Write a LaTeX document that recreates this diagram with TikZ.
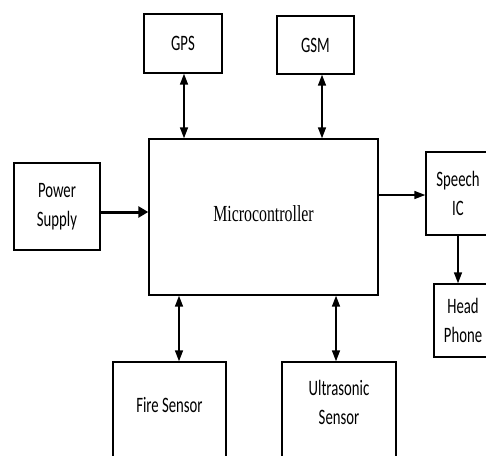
\documentclass[tikz,border=0pt]{standalone}
\usepackage{fontspec}
\usetikzlibrary{arrows.meta}
\newfontfamily\lblfont[FakeStretch=0.67]{Carlito}
\newfontfamily\mcfont[FakeStretch=0.69]{Liberation Serif}
\begin{document}
\begin{tikzpicture}[x=1pt,y=-1pt,
  box/.style={draw=black,line width=1.4pt,inner sep=0pt,align=center,
    font=\lblfont\fontsize{22}{29}\selectfont},
  lbl/.style={inner sep=0pt,align=center,font=\lblfont\fontsize{22}{29}\selectfont},
  dar/.style={line width=1.6pt,{Triangle[length=11pt,width=8pt]}-{Triangle[length=11pt,width=8pt]}},
  sar/.style={line width=1.6pt,-{Triangle[length=11pt,width=8pt]}}]
\useasboundingbox (0,0) rectangle (486,455);
\clip (0,0) rectangle (486,455);
\fill[white] (0,0) rectangle (486,455);
% boxes
\node[box,minimum width=78pt,minimum height=59pt] (gps) at (183,43.5) {GPS};
\node[box,minimum width=77pt,minimum height=58pt] (gsm) at (315.5,45) {GSM};
\node[box,minimum width=86pt,minimum height=87pt] (power) at (57,206.5) {Power\\Supply};
\node[box,minimum width=229pt,minimum height=156pt,font=\mcfont\fontsize{23}{26}\selectfont] (mc) at (263.5,217) {\raisebox{7pt}{Microcontroller}};
\node[box,minimum width=64pt,minimum height=83pt] (speech) at (458,193.5) {Speech\\IC};
\node[box,minimum width=58pt,minimum height=73pt] (head) at (463,320.5) {Head\\Phone};
\node[box,minimum width=113pt,minimum height=120pt] (fire) at (169.5,422) {};
\node[box,minimum width=114pt,minimum height=120pt] (ultra) at (339,422) {};
\node[lbl] (firetext) at (169.5,405) {Fire Sensor};
\node[lbl] (ultratext) at (339,402) {Ultrasonic\\Sensor};
% connectors
\draw[dar] ([xshift=1pt]gps.south) -- ([xshift=1pt]gps.south |- mc.north);
\draw[dar] ([xshift=6.5pt]gsm.south) -- ([xshift=6.5pt]gsm.south |- mc.north);
\draw[dar] ([xshift=9.5pt]fire.north) -- ([xshift=9.5pt]fire.north |- mc.south);
\draw[dar] ([xshift=-3pt]ultra.north) -- ([xshift=-3pt]ultra.north |- mc.south);
\draw[line width=3pt,-{Triangle[length=10pt,width=11pt]}] ([yshift=-5.5pt]power.east) -- ([yshift=-5.5pt]power.east -| mc.west);
\draw[sar] ([yshift=22pt]mc.east) -- ([yshift=22pt]mc.east -| speech.west);
\draw[sar] (speech.south) -- (speech.south |- head.north);
\end{tikzpicture}
\end{document}
